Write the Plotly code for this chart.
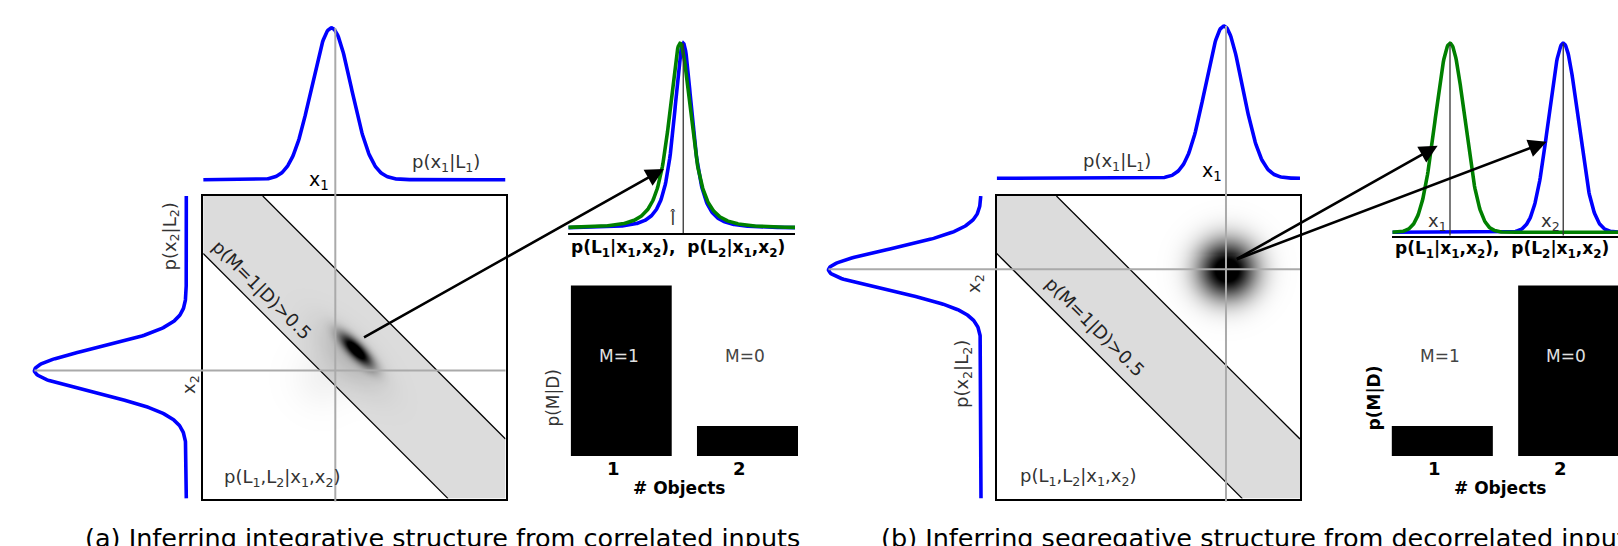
import numpy as np
import plotly.graph_objects as go

W, H = 1618, 546
FONT = "DejaVu Sans"

# ---------------- values ----------------
# marginal likelihoods (mean, sd) in unit-square coordinates
top_a = (0.424, 0.066)      # p(x1|L1), panel a
left_a = (0.423, 0.073)     # p(x2|L2), panel a
top_b = (0.749, 0.061)      # p(x1|L1), panel b
left_b = (0.756, 0.068)     # p(x2|L2), panel b
# observed cues (gray cross lines)
cue_a = (0.437, 0.423)
cue_b = (0.756, 0.758)
# region p(M=1|D) > 0.5 :  c_low < x1 + x2 < c_high
band_edges = (0.81, 1.197)
# joint posterior blobs: (cx, cy, sd_major, sd_minor, angle_deg, amplitude)
blob_a = [(0.505, 0.491, 0.050, 0.017, -45, 1.0),
          (0.480, 0.470, 0.100, 0.045, -45, 0.12),
          (0.390, 0.400, 0.070, 0.070, 0, 0.04)]
blob_b = [(0.758, 0.757, 0.066, 0.066, 0, 1.0)]
# posteriors over L (mean, scale, nu: None = gaussian)
post_a_L1 = (0.493, 0.053, 2.0)   # green
post_a_L2 = (0.507, 0.044, 2.0)   # blue
lhat_a = 0.507
post_b_L1 = (0.2545, 0.0644, None)
post_b_L2 = (0.754, 0.0644, None)
mark_b = [0.2545, 0.754]
# model posterior p(M|D)
n_objects = [1, 2]
pM_a = [0.85, 0.15]
pM_b = [0.15, 0.85]
bar_text = ["M=1", "M=0"]

BLUE, GREEN = "#0000ff", "#008000"
GRAY = "#aaaaaa"
BAND = "#dcdcdc"
TXT = "#333333"


# ---------------- pixel <-> axis helpers ----------------
def hmap(p0, p1, v0, v1, lo, hi):
    hi = min(hi, W)
    k = (v1 - v0) / (p1 - p0)
    f = lambda p: v0 + (p - p0) * k
    return dict(domain=[lo / W, hi / W], range=[f(lo), f(hi)]), (lambda v: p0 + (v - v0) / k)


def vmap(p0, p1, v0, v1, lo, hi):  # lo = top pixel, hi = bottom pixel
    k = (v1 - v0) / (p1 - p0)
    f = lambda p: v0 + (p - p0) * k
    return dict(domain=[1 - hi / H, 1 - lo / H], range=[f(hi), f(lo)]), (lambda v: p0 + (v - v0) / k)


def px(xp, yp):
    return xp / W, 1 - yp / H


def gauss(x, mu, sd, nu=None):
    d = (x - mu) / sd
    if nu is None:
        return np.exp(-0.5 * d * d)
    return (1 + d * d / nu) ** (-(nu + 1) / 2)


def blob_z(comps, g):
    X, Y = np.meshgrid(g, g)
    Z = np.zeros_like(X)
    for cx, cy, sM, sm, ang, amp in comps:
        t = np.deg2rad(ang)
        dx, dy = X - cx, Y - cy
        u = dx * np.cos(t) + dy * np.sin(t)
        v = -dx * np.sin(t) + dy * np.cos(t)
        Z += amp * np.exp(-0.5 * (u ** 2 / sM ** 2 + v ** 2 / sm ** 2))
    return Z


def clip_band(lo_c, hi_c):
    poly = [(0, 0), (1, 0), (1, 1), (0, 1)]

    def clip(poly, c, keep_ge):
        out = []
        n = len(poly)
        for i in range(n):
            p, q = poly[i], poly[(i + 1) % n]
            sp, sq = p[0] + p[1] - c, q[0] + q[1] - c
            inp = sp >= 0 if keep_ge else sp <= 0
            inq = sq >= 0 if keep_ge else sq <= 0
            if inp:
                out.append(p)
            if inp != inq:
                t = sp / (sp - sq)
                out.append((p[0] + t * (q[0] - p[0]), p[1] + t * (q[1] - p[1])))
        return out

    poly = clip(poly, lo_c, True)
    poly = clip(poly, hi_c, False)
    return poly


def edge_segment(c):
    if c <= 1:
        return [0, c], [c, 0]
    return [c - 1, 1], [1, c - 1]


fig = go.Figure()
layout = dict(width=W, height=H, margin=dict(l=0, r=0, t=0, b=0),
              paper_bgcolor="white", plot_bgcolor="rgba(0,0,0,0)",
              showlegend=False, shapes=[], annotations=[],
              font=dict(family=FONT, color=TXT))

AX = dict(showgrid=False, zeroline=False, showticklabels=False, ticks="", fixedrange=True)


def add_axes(i, xd, yd, xline=False, box=False):
    xn = "xaxis" if i == 1 else f"xaxis{i}"
    yn = "yaxis" if i == 1 else f"yaxis{i}"
    xa = dict(AX, **xd, anchor=f"y{'' if i == 1 else i}")
    ya = dict(AX, **yd, anchor=f"x{'' if i == 1 else i}")
    if box:
        for a in (xa, ya):
            a.update(showline=True, mirror=True, linecolor="black", linewidth=1.5)
    elif xline:
        xa.update(showline=True, linecolor="black", linewidth=1.5)
    else:
        xa.update(showline=False)
    ya.setdefault("showline", False)
    layout[xn] = xa
    layout[yn] = ya
    return (f"x{'' if i == 1 else i}", f"y{'' if i == 1 else i}")


def ann(text, xp, yp, size=18, color=TXT, angle=0, xanchor="center", bold=False):
    x, y = px(xp, yp)
    if bold:
        text = f"<b>{text}</b>"
    layout["annotations"].append(dict(text=text, x=x, y=y, xref="paper", yref="paper",
                                      xanchor=xanchor, yanchor="middle", showarrow=False,
                                      textangle=angle, font=dict(size=size, color=color, family=FONT)))


def arrow(tail, head):
    hx, hy = px(*head)
    layout["annotations"].append(dict(text="", x=hx, y=hy, xref="paper", yref="paper",
                                      ax=tail[0] - head[0], ay=tail[1] - head[1],
                                      axref="pixel", ayref="pixel", showarrow=True,
                                      arrowhead=2, arrowsize=1.4, arrowwidth=2.6,
                                      arrowcolor="black"))


g = np.linspace(0, 1, 401)


def panel(base, sq_x, top_px, left_px, top_d, left_d, cue, blob, small, bars, pmd_bold):
    # --- main square ---
    sx0, sx1 = sq_x
    sy0, sy1 = 196.0, 498.6
    xd, fx = hmap(sx0, sx1, 0, 1, sx0, sx1)
    yd, fy = vmap(sy1, sy0, 0, 1, sy0, sy1)
    xm, ym = add_axes(base, xd, yd, box=True)

    poly = clip_band(*band_edges)
    path = "M " + " L ".join(f"{p[0]},{p[1]}" for p in poly) + " Z"
    layout["shapes"].append(dict(type="path", path=path, xref=xm, yref=ym, layer="below",
                                 fillcolor=BAND, line=dict(width=0)))
    gg = np.linspace(0, 1, 301)
    fig.add_trace(go.Heatmap(x=gg, y=gg, z=blob_z(blob, gg), xaxis=xm, yaxis=ym,
                             colorscale=[[0, "rgba(0,0,0,0)"], [1, "rgba(0,0,0,1)"]],
                             zmin=0, zmax=0.85, showscale=False, zsmooth="best", hoverinfo="skip"))
    for c in band_edges:
        ex, ey = edge_segment(c)
        fig.add_trace(go.Scatter(x=ex, y=ey, mode="lines", xaxis=xm, yaxis=ym,
                                 line=dict(color="black", width=1.3), hoverinfo="skip"))

    # --- top marginal ---
    tb, tp = top_px
    xd2, _ = hmap(sx0, sx1, 0, 1, sx0, sx1)
    yd2, fy2 = vmap(tb, tp, 0, 1, 15, 188)
    xt, yt = add_axes(base + 1, xd2, yd2)
    fig.add_trace(go.Scatter(x=g, y=gauss(g, *top_d), mode="lines", xaxis=xt, yaxis=yt,
                             line=dict(color=BLUE, width=3.6), hoverinfo="skip"))
    # --- left marginal ---
    lb, lp = left_px
    xd3, fx3 = hmap(lb, lp, 0, 1, lp - 8, lb + 6)
    yd3, _ = vmap(sy1, sy0, 0, 1, sy0, sy1)
    xl, yl = add_axes(base + 2, xd3, yd3)
    fig.add_trace(go.Scatter(x=gauss(g, *left_d), y=g, mode="lines", xaxis=xl, yaxis=yl,
                             line=dict(color=BLUE, width=3.6), hoverinfo="skip"))

    # gray cross lines through the cues
    layout["shapes"].append(dict(type="line", xref=xm, yref="paper", x0=cue[0], x1=cue[0],
                                 y0=1 - (sy1 + 3) / H, y1=1 - fy2(1.0) / H,
                                 line=dict(color=GRAY, width=2), layer="above"))
    layout["shapes"].append(dict(type="line", yref=ym, xref="paper", y0=cue[1], y1=cue[1],
                                 x0=fx3(1.0) / W, x1=sx1 / W,
                                 line=dict(color=GRAY, width=2), layer="above"))

    # --- small posterior panel ---
    (ax0, ax1, base_y, peak_y, axis_y, curves, vlines) = small
    xd4, fx4 = hmap(ax0, ax1, 0, 1, ax0, min(ax1, W))
    yd4, fy4 = vmap(base_y, peak_y, 0, 1, 30, axis_y)
    xs, ys = add_axes(base + 3, xd4, yd4, xline=True)
    for pars, col in curves:
        fig.add_trace(go.Scatter(x=g, y=gauss(g, *pars), mode="lines", xaxis=xs, yaxis=ys,
                                 line=dict(color=col, width=3.6), hoverinfo="skip"))
    ybot = yd4["range"][0]
    for v in vlines:
        fig.add_trace(go.Scatter(x=[v, v], y=[ybot, 1.0], mode="lines", xaxis=xs, yaxis=ys,
                                 line=dict(color="#333333", width=1.3), hoverinfo="skip"))

    # --- bar panel ---
    (c1, c2, vals) = bars
    xd5, fx5 = hmap(c1, c2, 1, 2, c1 - 0.4 * (c2 - c1), min(c2 + 0.4 * (c2 - c1), W))
    yd5, fy5 = vmap(456.1, 285.5, 0, 0.85, 280, 456.1)
    xb, yb = add_axes(base + 4, xd5, yd5)
    fig.add_trace(go.Bar(x=n_objects, y=vals, width=0.8, xaxis=xb, yaxis=yb,
                         marker=dict(color="black", line=dict(width=0)), hoverinfo="skip"))
    for n, v, t in zip(n_objects, vals, bar_text):
        col = "#e0e0e0" if v > 0.5 else "#444444"
        ann(t, fx5(n - 0.02), fy5(0.5), size=17, color=col)
        ann(str(n), fx5(n - 0.063), 468, size=18, color="black", bold=True)
    ann("# Objects", fx5(1.455), 488, size=17, color="black", bold=True)
    ann("p(M|D)", fx5(0.6) - 18, fy5(0.29), size=17,
        color="black" if pmd_bold else TXT, angle=-90, bold=pmd_bold)

    return dict(fx=fx, fy=fy, fx4=fx4, fy4=fy4, fy2=fy2, fx3=fx3)


# panel (a)
A = panel(1, (203.2, 505.5), (179.7, 27.9), (186.3, 34.4), top_a, left_a, cue_a, blob_a,
          (568.3, 795.0, 228.0, 43.3, 233.3,
           [(post_a_L2, BLUE), (post_a_L1, GREEN)], [lhat_a]),
          (621.2, 747.5, pM_a), False)
# panel (b)
B = panel(6, (996.7, 1300.0), (178.3, 26.1), (981.0, 828.5), top_b, left_b, cue_b, blob_b,
          (1392.3, 1619.0, 232.3, 43.3, 235.7,
           [(post_b_L2, BLUE), (post_b_L1, GREEN)], mark_b),
          (1442.2, 1568.8, pM_b), True)

# ---------------- labels ----------------
# panel a
ann("x<sub>1</sub>", 318.5, 181, size=19, color="black")
ann("p(x<sub>1</sub>|L<sub>1</sub>)", 446, 163, size=18)
ann("p(x<sub>2</sub>|L<sub>2</sub>)", 170.5, 237, size=18, angle=-90)
ann("x<sub>2</sub>", 190, 385, size=18, angle=-90)
ann("p(M=1|D)>0.5", 262, 289, size=18, angle=45, color="#222222")
ann("p(L<sub>1</sub>,L<sub>2</sub>|x<sub>1</sub>,x<sub>2</sub>)", 282, 478, size=18)
ann("p(L<sub>1</sub>|x<sub>1</sub>,x<sub>2</sub>),  p(L<sub>2</sub>|x<sub>1</sub>,x<sub>2</sub>)",
    569, 249, size=17, color="black", xanchor="left", bold=True)
ann("l\u0302", A["fx4"](lhat_a) - 10, 219, size=17)
ann("(a) Inferring integrative structure from correlated inputs", 443, 538, size=25.5,
    color="black")

# panel b
ann("p(x<sub>1</sub>|L<sub>1</sub>)", 1117, 162, size=18)
ann("x<sub>1</sub>", 1212, 171, size=19, color="black")
ann("x<sub>2</sub>", 975, 284, size=18, angle=-90)
ann("p(x<sub>2</sub>|L<sub>2</sub>)", 963, 374, size=18, angle=-90)
ann("p(M=1|D)>0.5", 1095, 326, size=18, angle=45, color="#222222")
ann("p(L<sub>1</sub>,L<sub>2</sub>|x<sub>1</sub>,x<sub>2</sub>)", 1078, 477, size=18)
ann("p(L<sub>1</sub>|x<sub>1</sub>,x<sub>2</sub>),  p(L<sub>2</sub>|x<sub>1</sub>,x<sub>2</sub>)",
    1393, 250, size=17, color="black", xanchor="left", bold=True)
ann("x<sub>1</sub>", B["fx4"](mark_b[0]) - 12, 222, size=18)
ann("x<sub>2</sub>", B["fx4"](mark_b[1]) - 13, 222, size=18)
ann("(b) Inferring segregative structure from decorrelated inputs", 879, 538, size=25.5,
    color="black", xanchor="left")

# ---------------- arrows ----------------
arrow((A["fx"](0.527), A["fy"](0.530)), (A["fx4"](0.422), A["fy4"](0.32)))
tail_b = (B["fx"](0.787), B["fy"](0.789))
arrow(tail_b, (B["fx4"](0.200), B["fy4"](0.458)))
arrow(tail_b, (B["fx4"](0.681), B["fy4"](0.479)))

fig.update_layout(**layout)
fig.write_html("out.html")
